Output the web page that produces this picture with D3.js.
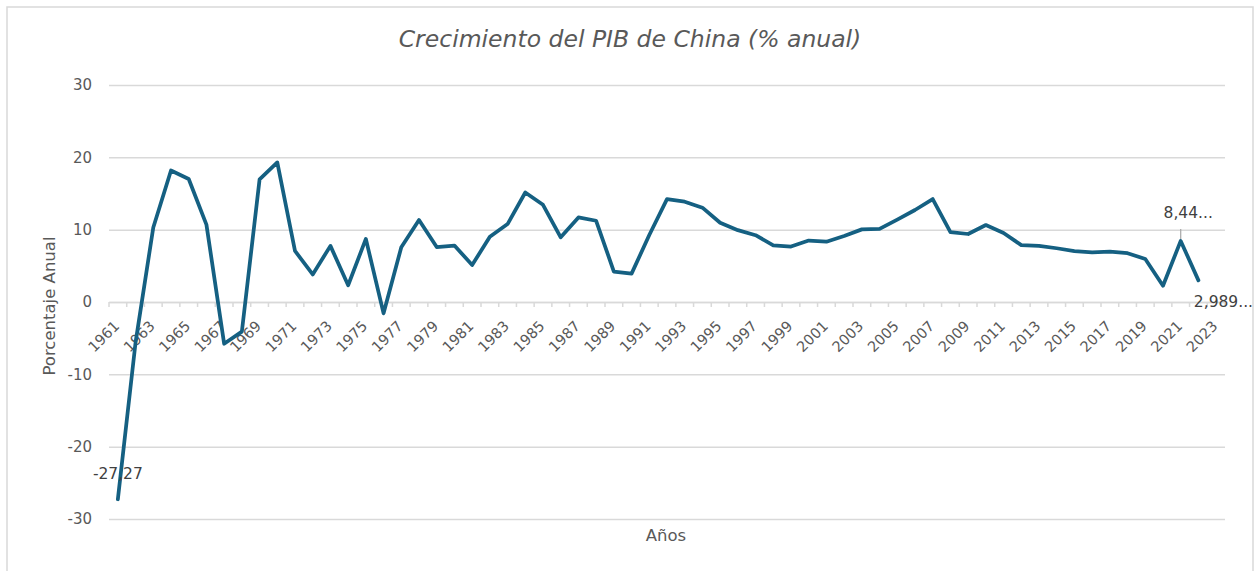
<!DOCTYPE html>
<html>
<head>
<meta charset="utf-8">
<script src="https://cdn.jsdelivr.net/npm/d3@7"></script>
<style>
  body { margin: 0; background: #fff; }
  text { font-family: "DejaVu Sans", sans-serif; }
</style>
</head>
<body>
<div id="chart"></div>
<script>
const years = d3.range(1961, 2024).map(String);
const growth = [
  -27.27, -5.58, 10.30, 18.18, 17.00, 10.70, -5.77, -4.10, 16.94, 19.30,
  7.06, 3.81, 7.76, 2.31, 8.72, -1.57, 7.57, 11.33, 7.60, 7.81,
  5.11, 9.02, 10.77, 15.14, 13.44, 8.94, 11.69, 11.23, 4.21, 3.92,
  9.26, 14.22, 13.87, 13.04, 10.95, 9.93, 9.23, 7.84, 7.67, 8.49,
  8.34, 9.13, 10.04, 10.11, 11.39, 12.72, 14.23, 9.65, 9.40, 10.64,
  9.55, 7.86, 7.77, 7.43, 7.04, 6.85, 6.95, 6.75, 5.95, 2.24,
  8.448, 2.989, null
];
const yTicks = [-30, -20, -10, 0, 10, 20, 30];
const dataLabels = [
  {year: '1961', text: '-27,27', dx: 0, dy: -20},
  {year: '2021', text: '8,44...', dx: 7.5, dy: -23},
  {year: '2022', text: '2,989...', dx: 25, dy: 27}
];

const width = 1257, height = 571;
const margin = {top: 85, left: 109};
const innerW = 1225 - margin.left, innerH = 519 - margin.top;

const svg = d3.select('#chart').append('svg')
  .attr('width', width)
  .attr('height', height);

// chart frame
svg.append('rect')
  .attr('x', 7).attr('y', 7)
  .attr('width', 1246).attr('height', 600)
  .attr('fill', 'none')
  .attr('stroke', '#d9d9d9')
  .attr('stroke-width', 1.5);

svg.append('text')
  .attr('x', 630).attr('y', 47)
  .attr('text-anchor', 'middle')
  .style('font-size', '23.5px')
  .style('font-style', 'italic')
  .style('fill', '#595959')
  .text('Crecimiento del PIB de China (% anual)');

const g = svg.append('g')
  .attr('transform', `translate(${margin.left},${margin.top})`);

/// SETUP scales
const x = d3.scaleBand().domain(years).range([0, innerW]).padding(0);
const y = d3.scaleLinear().domain([-30, 30]).range([innerH, 0]);
const cx = d => x(d) + x.bandwidth() / 2;

/// GRID + Y axis
g.append('g')
  .call(d3.axisLeft(y).tickValues(yTicks).tickFormat(d => String(d)).tickSize(-innerW).tickPadding(17))
  .call(a => a.select('.domain').remove())
  .call(a => a.selectAll('line').attr('stroke', '#d9d9d9').attr('stroke-width', 1.5))
  .call(a => a.selectAll('text')
    .style('font-size', '15px').style('fill', '#595959').style('font-family', '"DejaVu Sans", sans-serif'));

/// X axis at zero
const xAxis = g.append('g')
  .attr('transform', `translate(0,${y(0)})`)
  .call(d3.axisBottom(x).tickSize(0).tickFormat((d, i) => i % 2 === 0 ? d : ''));
xAxis.select('.domain').attr('stroke', '#d9d9d9').attr('stroke-width', 1.5);
xAxis.selectAll('text')
  .attr('text-anchor', 'end')
  .attr('x', 0).attr('y', 0).attr('dy', 0)
  .attr('transform', 'translate(2.5,25) rotate(-45)')
  .style('font-size', '14.5px').style('fill', '#595959')
  .style('font-family', '"DejaVu Sans", sans-serif');
xAxis.selectAll('.tick-mark')
  .data(d3.range(years.length + 1))
  .join('line')
  .attr('class', 'tick-mark')
  .attr('x1', i => i * x.bandwidth())
  .attr('x2', i => i * x.bandwidth())
  .attr('y1', 0).attr('y2', 5)
  .attr('stroke', '#d9d9d9').attr('stroke-width', 1.5);

/// LINE
const pts = years.map((yr, i) => ({year: yr, v: growth[i]})).filter(d => d.v !== null);
g.append('path')
  .datum(pts)
  .attr('fill', 'none')
  .attr('stroke', '#156082')
  .attr('stroke-width', 3.75)
  .attr('stroke-linejoin', 'round')
  .attr('stroke-linecap', 'round')
  .attr('d', d3.line().x(d => cx(d.year)).y(d => y(d.v)));

/// DATA labels
const valueOf = yr => growth[years.indexOf(yr)];
g.append('line')
  .attr('x1', cx('2021')).attr('x2', cx('2021'))
  .attr('y1', y(valueOf('2021')) - 2).attr('y2', y(valueOf('2021')) - 12)
  .attr('stroke', '#a6a6a6').attr('stroke-width', 1.2);
g.selectAll('.dlabel')
  .data(dataLabels)
  .join('text')
  .attr('class', 'dlabel')
  .attr('x', d => cx(d.year) + d.dx)
  .attr('y', d => y(valueOf(d.year)) + d.dy)
  .attr('text-anchor', 'middle')
  .style('font-size', '15.5px')
  .style('fill', '#404040')
  .text(d => d.text);

/// AXIS titles
svg.append('text')
  .attr('x', 666).attr('y', 541)
  .attr('text-anchor', 'middle')
  .style('font-size', '16.5px').style('fill', '#595959')
  .text('Años');
svg.append('text')
  .attr('transform', 'translate(55,306) rotate(-90)')
  .attr('text-anchor', 'middle')
  .style('font-size', '16.5px').style('fill', '#595959')
  .text('Porcentaje Anual');
</script>
</body>
</html>
